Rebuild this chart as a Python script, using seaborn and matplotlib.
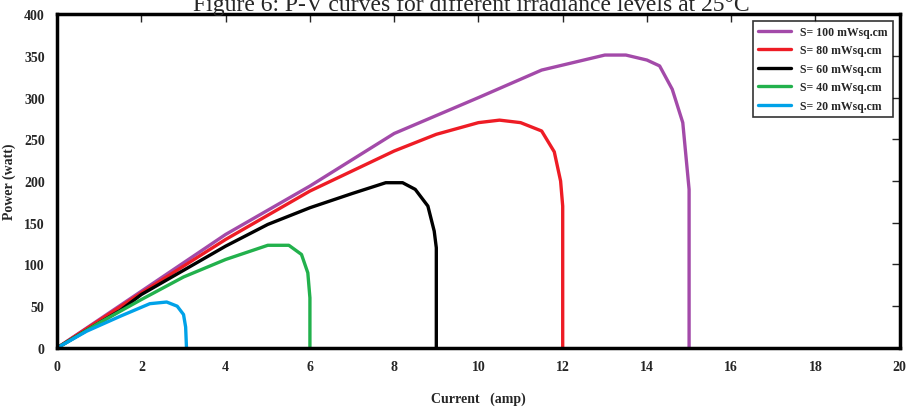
import pandas as pd
import matplotlib.pyplot as plt
import seaborn as sns
import numpy as np

# P-V curves (current in amp, power in watt)
i_100 = [0, 2, 4, 6, 8, 10, 11.5, 12.5, 13.0, 13.5, 14.0, 14.3, 14.6, 14.85, 15.0, 15.0]
p_100 = [0, 68, 136, 194, 257, 300, 333, 345, 351, 351, 345, 338, 310, 270, 190, 0]

i_80 = [0, 2, 4, 6, 8, 9, 10, 10.5, 11.0, 11.5, 11.8, 11.95, 12.0, 12.0]
p_80 = [0, 66, 130, 188, 236, 256, 270, 273, 270, 260, 235, 200, 170, 0]

i_60 = [0, 1.5, 2, 4, 5, 6, 7, 7.8, 8.2, 8.5, 8.8, 8.95, 9.0, 9.0]
p_60 = [0, 45, 64, 122, 148, 168, 185, 198, 198, 190, 170, 140, 120, 0]

i_40 = [0, 1, 2, 3, 4, 5, 5.5, 5.8, 5.95, 6.0, 6.0]
p_40 = [0, 30, 58, 85, 106, 123, 123, 112, 90, 60, 0]

i_20 = [0, 0.7, 1.5, 2.2, 2.6, 2.85, 3.0, 3.05, 3.07]
p_20 = [0, 20, 38, 53, 55, 50, 40, 25, 0]

labels = ['S= 100 mWsq.cm', 'S= 80 mWsq.cm', 'S= 60 mWsq.cm', 'S= 40 mWsq.cm', 'S= 20 mWsq.cm']
colores = ['#a34aa9', '#ee1c25', '#000000', '#22b14c', '#00a2e8']

frames = []
for lab, xs, ys in zip(labels, [i_100, i_80, i_60, i_40, i_20], [p_100, p_80, p_60, p_40, p_20]):
    d = pd.DataFrame({'Current': xs, 'Power': ys})
    d['Curve'] = lab
    frames.append(d)
dados = pd.concat(frames, ignore_index=True)

sns.set_style('white')
plt.rcParams['font.family'] = ['Liberation Serif', 'DejaVu Serif']

fig = plt.figure(figsize=(9.07, 4.10), dpi=100)
ax = fig.add_axes([0.063, 0.149, 0.929, 0.814])

sns.lineplot(data=dados, x='Current', y='Power', hue='Curve', hue_order=labels,
             palette=colores, sort=False, estimator=None, units='Curve',
             linewidth=2.4, ax=ax)

ax.set_xlim(0, 20)
ax.set_ylim(0, 400)
ax.set_xticks(range(0, 21, 2))
ax.set_yticks(range(0, 401, 50))
ax.tick_params(direction='in', length=6, width=1, top=True, right=True,
               labelsize=10, pad=9)
for t in ax.get_xticklabels() + ax.get_yticklabels():
    t.set_fontweight('bold')
for s in ax.spines.values():
    s.set_linewidth(2.5)
    s.set_color('black')

ax.set_xlabel('Current   (amp)', fontsize=10, fontweight='bold', labelpad=13)
ax.set_ylabel('Power (watt)', fontsize=10, fontweight='bold', labelpad=6)

leg = ax.legend(loc='upper right', fontsize=8.5, frameon=True, fancybox=False,
                borderaxespad=0.6, handlelength=2.8, labelspacing=0.55)
leg.get_frame().set_edgecolor('black')
leg.get_frame().set_linewidth(1.2)
for t in leg.get_texts():
    t.set_fontweight('bold')

fig.text(0.52, 0.972, 'Figure 6: P-V curves for different irradiance levels at 25°C',
         ha='center', va='baseline', fontsize=17)

fig.savefig('out.png', dpi=100)
